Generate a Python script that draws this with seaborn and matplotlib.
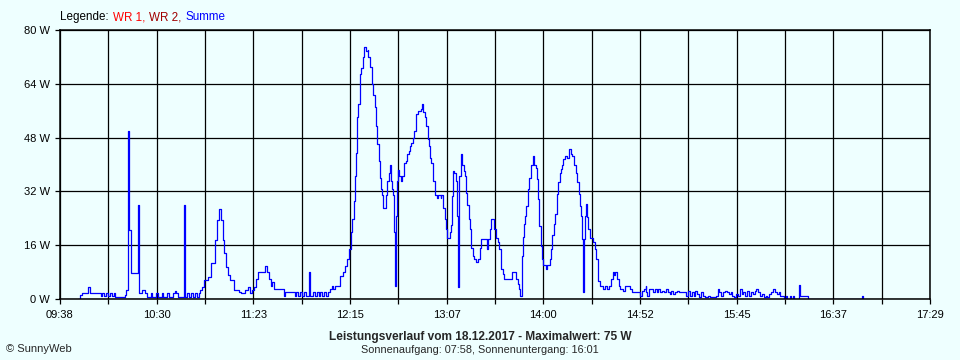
import matplotlib
matplotlib.use("Agg")
import matplotlib.pyplot as plt
import seaborn as sns
import numpy as np
import pandas as pd

uhrzeit = [
    "09:48", "09:49", "09:50", "09:53", "09:54", "10:00", "10:01", "10:02", "10:03", "10:04",
    "10:05", "10:06", "10:07", "10:08", "10:13", "10:14", "10:15", "10:15:30", "10:16:30", "10:20",
    "10:20:30", "10:22:30", "10:24", "10:25", "10:27", "10:28", "10:30", "10:31", "10:33", "10:34",
    "10:36", "10:37", "10:39", "10:40", "10:41", "10:42", "10:45", "10:45:30", "10:47", "10:48",
    "10:49", "10:50", "10:51", "10:52", "10:53", "10:54", "10:55", "10:56", "10:58", "11:00",
    "11:02", "11:03", "11:04", "11:05", "11:06", "11:07", "11:08", "11:09", "11:10", "11:12",
    "11:15", "11:16", "11:18", "11:20", "11:21", "11:22", "11:23", "11:24", "11:25", "11:29",
    "11:30", "11:31", "11:32", "11:33", "11:34", "11:39", "11:40", "11:45", "11:46", "11:47",
    "11:48", "11:49", "11:50", "11:51", "11:53", "11:53:30", "11:55", "11:56", "11:57", "11:58",
    "11:59", "12:00", "12:01", "12:02", "12:03", "12:04", "12:05", "12:06", "12:07", "12:09:30",
    "12:11", "12:12:30", "12:13:30", "12:14:30", "12:15:30", "12:16", "12:17", "12:17:30", "12:18:30", "12:19",
    "12:19:30", "12:20:30", "12:21", "12:22", "12:22:30", "12:23:30", "12:24:30", "12:25", "12:26", "12:27",
    "12:27:30", "12:28:30", "12:29", "12:29:30", "12:30:30", "12:31", "12:32", "12:32:30", "12:33", "12:34:30",
    "12:35", "12:36", "12:36:30", "12:37", "12:37:30", "12:38:30", "12:39", "12:39:30", "12:40", "12:40:30",
    "12:41", "12:41:30", "12:42:30", "12:43", "12:44", "12:44:30", "12:45:30", "12:46", "12:47", "12:47:30",
    "12:48", "12:49", "12:49:30", "12:50:30", "12:51", "12:52", "12:53:30", "12:54", "12:54:30", "12:55:30",
    "12:56", "12:57", "12:57:30", "12:58:30", "12:59", "13:00", "13:01", "13:02", "13:02:30", "13:04",
    "13:04:30", "13:05:30", "13:06:30", "13:07", "13:07:30", "13:09", "13:09:30", "13:10", "13:11", "13:11:30",
    "13:12:30", "13:13", "13:13:30", "13:14", "13:15", "13:15:30", "13:16:30", "13:17:30", "13:18", "13:18:30",
    "13:19:30", "13:20", "13:20:30", "13:21:30", "13:22", "13:23", "13:24:30", "13:25:30", "13:26", "13:29",
    "13:29:30", "13:31", "13:31:30", "13:33", "13:34", "13:35", "13:35:30", "13:36:30", "13:37", "13:38",
    "13:38:30", "13:42:30", "13:45", "13:46", "13:46:30", "13:47", "13:48", "13:48:30", "13:49", "13:50",
    "13:50:30", "13:51:30", "13:52", "13:53", "13:54", "13:54:30", "13:55:30", "13:56", "13:57", "13:57:30",
    "13:58:30", "13:59", "13:59:30", "14:01", "14:01:30", "14:03:30", "14:04", "14:04:30", "14:05:30", "14:06",
    "14:07", "14:07:30", "14:08:30", "14:09", "14:10", "14:10:30", "14:11:30", "14:12:30", "14:13:30", "14:14:30",
    "14:15", "14:16", "14:16:30", "14:17:30", "14:18", "14:19", "14:19:30", "14:20", "14:20:30", "14:21",
    "14:21:30", "14:22", "14:23", "14:23:30", "14:24", "14:25", "14:26:30", "14:27:30", "14:28", "14:29",
    "14:29:30", "14:30:30", "14:32", "14:33", "14:34", "14:35", "14:36:30", "14:37:30", "14:38", "14:38:30",
    "14:39:30", "14:40:30", "14:41", "14:43", "14:44", "14:46:30", "14:47:30", "14:52", "14:53", "14:54",
    "14:55", "14:55:30", "14:56", "14:57", "14:59", "15:00", "15:01", "15:02", "15:03", "15:04",
    "15:05", "15:06", "15:07", "15:08", "15:09", "15:10", "15:11", "15:12", "15:13", "15:17",
    "15:18", "15:19", "15:20", "15:21", "15:22", "15:23", "15:24", "15:25", "15:26", "15:27",
    "15:29", "15:30", "15:33", "15:34", "15:35", "15:36", "15:37", "15:38", "15:39", "15:40",
    "15:41", "15:42", "15:43", "15:44", "15:45", "15:46", "15:47", "15:48", "15:49", "15:50",
    "15:51", "15:52", "15:53", "15:54", "15:55", "15:56", "15:57", "15:58", "15:59", "16:00",
    "16:01", "16:02", "16:03", "16:04", "16:05", "16:06", "16:07", "16:08", "16:10", "16:11",
    "16:11:30", "16:13", "16:13:30", "16:15", "16:15:30", "16:18", "16:18:30", "16:23", "16:52", "16:52:30",
]
leistung = [
    0.0, 1.2, 1.7, 3.7, 1.7, 1.0, 1.7, 1.0, 1.7, 1.0,
    1.7, 1.0, 1.7, 0.7, 1.2, 2.7, 50.0, 20.5, 7.7, 28.0,
    1.7, 2.7, 1.7, 0.7, 1.7, 0.7, 1.7, 0.7, 1.7, 0.7,
    1.7, 0.7, 1.7, 2.5, 1.7, 0.7, 28.0, 0.7, 1.7, 0.7,
    1.7, 0.7, 1.7, 0.7, 1.7, 2.7, 3.7, 5.6, 6.6, 10.6,
    17.5, 23.5, 26.7, 23.5, 17.5, 13.6, 9.6, 7.0, 5.6, 2.7,
    2.2, 1.7, 2.7, 3.7, 1.7, 2.7, 3.7, 6.0, 7.9, 9.9,
    7.9, 5.9, 4.0, 5.0, 3.0, 1.0, 2.0, 1.0, 2.0, 1.0,
    2.0, 1.0, 2.0, 1.0, 8.0, 1.0, 2.0, 1.0, 2.0, 1.0,
    2.0, 1.0, 2.0, 1.0, 2.0, 3.0, 4.0, 3.0, 4.0, 6.9,
    7.9, 9.9, 11.9, 15.0, 20.0, 23.7, 29.0, 36.6, 43.5, 54.0,
    58.0, 66.8, 68.7, 72.0, 75.0, 73.7, 74.0, 72.0, 69.0, 64.0,
    60.8, 57.0, 51.4, 46.0, 41.0, 36.0, 32.6, 31.0, 27.0, 31.0,
    35.0, 37.6, 40.0, 35.0, 32.6, 31.0, 20.0, 4.0, 24.7, 35.0,
    38.5, 36.6, 35.0, 36.6, 38.0, 40.5, 41.0, 43.0, 44.0, 45.5,
    46.5, 48.0, 50.0, 53.4, 55.0, 55.9, 56.4, 58.0, 55.5, 54.0,
    51.4, 47.5, 45.5, 42.0, 40.5, 35.0, 31.0, 30.0, 31.0, 30.0,
    31.0, 27.0, 23.7, 20.8, 18.0, 20.0, 22.0, 30.6, 38.0, 37.6,
    35.0, 24.7, 3.5, 36.6, 43.0, 40.0, 38.0, 36.6, 31.6, 28.0,
    23.7, 20.8, 15.3, 12.9, 11.9, 10.9, 11.9, 15.3, 17.8, 15.0,
    17.8, 20.8, 23.7, 20.8, 18.0, 16.9, 15.0, 12.0, 9.0, 7.5,
    6.0, 8.0, 6.0, 4.5, 3.0, 1.0, 12.9, 18.4, 22.3, 24.8,
    27.8, 32.7, 36.0, 40.0, 42.6, 40.0, 39.0, 35.7, 29.7, 21.8,
    15.9, 12.0, 10.2, 9.0, 10.2, 12.0, 15.0, 18.9, 22.3, 25.3,
    31.2, 34.7, 37.6, 38.6, 40.0, 41.6, 42.6, 42.0, 44.5, 43.0,
    42.6, 41.6, 40.0, 37.6, 34.7, 31.2, 27.8, 24.8, 17.9, 2.0,
    17.9, 24.8, 28.2, 24.3, 20.8, 18.0, 16.9, 15.0, 12.0, 8.0,
    5.5, 4.0, 3.0, 4.0, 3.0, 4.0, 6.0, 8.0, 7.0, 8.0,
    6.0, 4.0, 3.0, 2.5, 4.0, 3.0, 2.0, 1.0, 2.5, 3.0,
    4.0, 2.0, 1.0, 3.0, 2.0, 3.0, 2.0, 3.0, 2.0, 2.5,
    2.0, 3.0, 2.0, 1.5, 2.5, 1.5, 2.0, 2.5, 2.0, 1.0,
    2.5, 1.0, 2.0, 1.0, 2.5, 1.5, 0.5, 2.0, 1.0, 0.5,
    1.0, 0.5, 1.0, 3.0, 2.0, 1.0, 2.0, 2.5, 2.0, 1.5,
    2.0, 1.0, 0.5, 1.5, 1.0, 3.0, 1.5, 2.0, 1.0, 2.5,
    1.0, 2.0, 1.5, 2.5, 3.0, 2.0, 1.0, 1.5, 0.5, 1.0,
    0.5, 1.5, 2.0, 3.0, 2.0, 1.5, 2.0, 1.0, 0.0, 1.0,
    0.0, 1.0, 0.0, 1.0, 0.0, 4.2, 1.0, 0.0, 1.0, 0.0,
]

x_start = "09:38"
x_ende = "17:29"
x_ticklabels = ["09:38", "10:30", "11:23", "12:15", "13:07", "14:00", "14:52", "15:45", "16:37", "17:29"]
y_ticks = [0, 16, 32, 48, 64, 80]
y_ticklabels = ["0 W", "16 W", "32 W", "48 W", "64 W", "80 W"]

legende_teile = ["Legende:", "WR 1,", "WR 2,", "Summe"]
legende_farben = ["black", "#FF0000", "#A00000", "#0000FF"]
titel = "Leistungsverlauf vom 18.12.2017 - Maximalwert: 75 W"
untertitel = "Sonnenaufgang: 07:58, Sonnenuntergang: 16:01"
copyright_text = "\u00a9 SunnyWeb"


def zu_minuten(s):
    teile = [int(t) for t in s.split(":")]
    while len(teile) < 3:
        teile.append(0)
    return teile[0] * 60 + teile[1] + teile[2] / 60


df = pd.DataFrame({"minuten": [zu_minuten(u) for u in uhrzeit], "leistung": leistung})

hintergrund = "#EEFFFF"

sns.set_theme(style="white")
plt.rcParams["font.family"] = ["Liberation Sans", "DejaVu Sans"]
plt.rcParams["font.size"] = 8

fig = plt.figure(figsize=(9.6, 3.6), dpi=100, facecolor=hintergrund)
ax = fig.add_axes([60 / 960, 1 - 299 / 360, 870 / 960, 269 / 360])
ax.set_facecolor(hintergrund)

sns.lineplot(
    data=df,
    x="minuten",
    y="leistung",
    drawstyle="steps-post",
    color="#0000FF",
    linewidth=0.9,
    estimator=None,
    ax=ax,
)

x0 = zu_minuten(x_start)
x1 = zu_minuten(x_ende)
gitter_x = np.linspace(x0, x1, 2 * len(x_ticklabels) - 1)
ax.set_xlim(x0, x1)
ax.set_ylim(0, 80)
ax.set_xticks(gitter_x[::2], labels=x_ticklabels)
ax.set_xticks(gitter_x[1::2], minor=True)
ax.set_yticks(y_ticks, labels=y_ticklabels)

ax.grid(which="both", axis="x", color="black", linewidth=0.9)
ax.grid(which="major", axis="y", color="black", linewidth=0.9)
ax.set_axisbelow(True)

for s in ax.spines.values():
    s.set_color("black")
    s.set_linewidth(1.1)
    s.set_zorder(3)

ax.tick_params(axis="both", which="both", direction="out", length=3.6, width=0.9,
               color="black", labelsize=8, labelcolor="black")
ax.tick_params(axis="x", which="both", bottom=True, pad=4.5)
ax.tick_params(axis="y", which="major", left=True, pad=3.5)
ax.set_xlabel("")
ax.set_ylabel("")

# Legende als farbiger Text, Teil für Teil hintereinander
fig.canvas.draw()
renderer = fig.canvas.get_renderer()
x_pos = 60
for teil, farbe in zip(legende_teile, legende_farben):
    t = fig.text(x_pos / 960, 1 - 17 / 360, teil, color=farbe, fontsize=8.4, va="center", ha="left")
    bb = t.get_window_extent(renderer=renderer)
    x_pos = bb.x1 + 4

fig.text(480 / 960, 1 - 337 / 360, titel, fontsize=8.6, fontweight="bold", ha="center", va="center")
fig.text(480 / 960, 1 - 350 / 360, untertitel, fontsize=7.8, ha="center", va="center")
fig.text(6 / 960, 1 - 349 / 360, copyright_text, fontsize=8, ha="left", va="center")

fig.savefig("out.png", dpi=100, facecolor=hintergrund)
plt.close(fig)
